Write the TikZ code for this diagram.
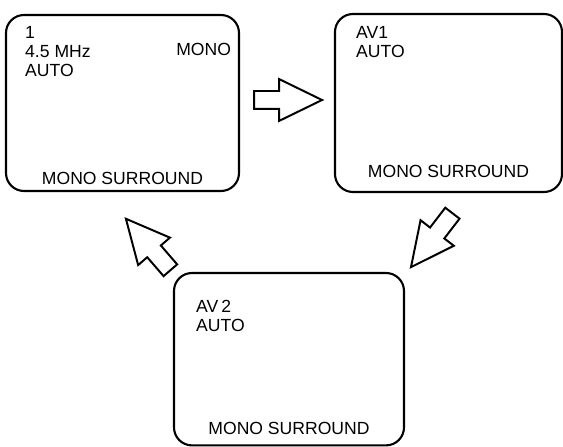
\documentclass[tikz,border=0pt]{standalone}
\usepackage{fontspec}
\setmainfont{Liberation Sans}
\usetikzlibrary{shapes.arrows, calc}

\tikzset{
    screen/.style={draw, line width=1.5pt, rounded corners=0.45cm, minimum width=5.75cm, minimum height=4.4cm},
    osd/.style={inner sep=0pt, font=\fontsize{12.5}{13.6}\selectfont},
    modearrow/.style={draw, line width=1.4pt, single arrow, single arrow head extend=0.3cm, single arrow tip angle=52, inner xsep=0pt, inner ysep=0.2cm, minimum height=1.7cm, anchor=tail}
}

\begin{document}
\begin{tikzpicture}
    \useasboundingbox (0,0) rectangle (14.075,-11.175);

    % the three screens
    \node[screen, minimum width=5.825cm] (tv1) at (3.0625,-2.575) {};
    \node[screen, minimum width=5.675cm, minimum height=4.45cm] (av1) at (11.2125,-2.575) {};
    \node[screen, minimum height=4.31cm] (av2) at (7.225,-8.98) {};

    \node[osd, anchor=north west, align=left] (tv1info) at ([xshift=5mm, yshift=-3mm]tv1.north west) {1\\4.5 MHz\\AUTO};
    \node[osd, anchor=base east] (tv1mode) at ([xshift=-2.2mm, yshift=-10.5mm]tv1.north east) {MONO};
    \node[osd, anchor=base] (tv1snd) at ([yshift=2mm]tv1.south) {MONO SURROUND};

    \node[osd, anchor=north west, align=left] (av1info) at ([xshift=5.5mm, yshift=-3.25mm]av1.north west) {AV1\\AUTO};
    \node[osd, anchor=base] (av1snd) at ([yshift=4mm]av1.south) {MONO SURROUND};

    \node[osd, anchor=north west, align=left] (av2info) at ([xshift=5.75mm, yshift=-7mm]av2.north west) {AV\,2\\AUTO};
    \node[osd, anchor=base] (av2snd) at ([yshift=3mm]av2.south) {MONO SURROUND};

    % hollow arrows between the screens, placed by their tails
    \node[modearrow] (next1) at ([xshift=3.25mm, yshift=0.75mm]tv1.east) {};
    \node[modearrow, rotate=-127.5] (next2) at (11.325,-5.31) {};
    \node[modearrow, rotate=130.8] (next3) at (4.275,-6.775) {};
\end{tikzpicture}
\end{document}
